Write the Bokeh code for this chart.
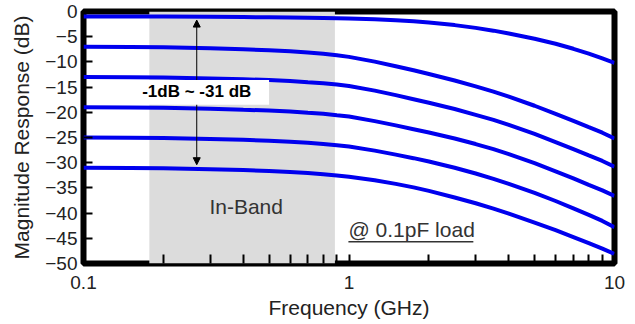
from bokeh.plotting import figure
from bokeh.models import (FixedTicker, CustomJSTickFormatter, BoxAnnotation,
                          Label, Arrow, NormalHead)
from bokeh.embed import file_html
from bokeh.resources import INLINE

# Frequency sweep (GHz) and magnitude response (dB) for each gain setting
freq_ghz = [0.1, 0.15, 0.2, 0.3, 0.4, 0.5, 0.6, 0.7, 0.8, 0.9, 1.0, 1.25, 1.5, 1.75,
            2.0, 2.5, 3.0, 3.5, 4.0, 5.0, 6.0, 7.0, 8.0, 9.0, 10.0]
resp_1db = [-1.0, -1.0, -1.0, -1.05, -1.1, -1.15, -1.2, -1.25, -1.3, -1.35, -1.4, -1.55, -1.75,
            -1.95, -2.2, -2.7, -3.25, -3.8, -4.35, -5.4, -6.4, -7.4, -8.35, -9.3, -10.2]
resp_7db = [-7.0, -7.05, -7.1, -7.3, -7.5, -7.7, -7.9, -8.15, -8.4, -8.7, -9.0, -9.95, -10.85,
            -11.65, -12.4, -13.7, -14.85, -15.9, -16.9, -18.7, -20.3, -21.7, -22.95, -24.05, -25.2]
resp_13db = [-13.0, -13.05, -13.1, -13.3, -13.45, -13.6, -13.8, -14.05, -14.25, -14.5, -14.8, -15.7, -16.6,
             -17.4, -18.1, -19.35, -20.5, -21.5, -22.5, -24.3, -25.9, -27.3, -28.55, -29.65, -30.8]
resp_19db = [-19.0, -19.05, -19.1, -19.3, -19.5, -19.65, -19.85, -20.1, -20.3, -20.6, -20.85, -21.75, -22.6,
             -23.35, -24.0, -25.2, -26.3, -27.3, -28.3, -30.1, -31.7, -33.1, -34.4, -35.5, -36.6]
resp_25db = [-25.0, -25.05, -25.1, -25.3, -25.45, -25.65, -25.85, -26.05, -26.3, -26.55, -26.8, -27.6, -28.4,
             -29.1, -29.75, -31.0, -32.15, -33.2, -34.2, -36.0, -37.6, -39.05, -40.35, -41.55, -42.8]
resp_31db = [-31.0, -31.05, -31.1, -31.3, -31.45, -31.65, -31.85, -32.05, -32.3, -32.55, -32.8, -33.5, -34.2,
             -34.9, -35.6, -36.9, -38.05, -39.1, -40.1, -41.9, -43.4, -44.75, -45.95, -47.05, -48.1]
curves = [resp_1db, resp_7db, resp_13db, resp_19db, resp_25db, resp_31db]

# Axis ticks
x_major_ticks = [0.1, 1, 10]
x_minor_ticks = [0.2, 0.3, 0.4, 0.5, 0.6, 0.7, 0.8, 0.9, 2, 3, 4, 5, 6, 7, 8, 9]
y_major_ticks = [0, -5, -10, -15, -20, -25, -30, -35, -40, -45, -50]

# Annotations
in_band_ghz = [0.177, 0.885]
range_db = [-1, -31]
range_text = "-1dB ~ -31 dB"
band_text = "In-Band"
load_text = "@ 0.1pF load"

FONT = "Liberation Sans"
TEXT_COLOR = "#222222"
CURVE_COLOR = "#0000ee"

p = figure(
    x_axis_type="log", x_range=(0.1, 10), y_range=(-50, 0),
    width=635, height=324,
    min_border_left=83, min_border_right=21, min_border_top=11, min_border_bottom=61,
    output_backend="svg", toolbar_location=None,
    background_fill_color="white", border_fill_color="white",
)
p.grid.visible = False
p.outline_line_color = "black"
p.outline_line_width = 6

# In-band shading
p.add_layout(BoxAnnotation(left=in_band_ghz[0], right=in_band_ghz[1],
                           fill_color="#dcdcdc", fill_alpha=1.0,
                           line_color=None, level="underlay"))

for resp in curves:
    p.line(freq_ghz, resp, line_color=CURVE_COLOR, line_width=4)

# Attenuation range arrow with its boxed label
arrow_x = 0.267
p.add_layout(Arrow(x_start=arrow_x, y_start=-16, x_end=arrow_x, y_end=range_db[0] - 0.7,
                   end=NormalHead(size=7, fill_color="black", line_color="black"),
                   line_color="black", line_width=1))
p.add_layout(Arrow(x_start=arrow_x, y_start=-16, x_end=arrow_x, y_end=range_db[1] + 0.6,
                   end=NormalHead(size=7, fill_color="black", line_color="black"),
                   line_color="black", line_width=1))
p.add_layout(BoxAnnotation(left=0.157, right=0.5, top=-13.6, bottom=-18.5,
                           fill_color="white", fill_alpha=1.0, line_color=None))
p.add_layout(Label(x=arrow_x, y=-15.9, text=range_text, text_align="center",
                   text_baseline="alphabetic", text_font=FONT, text_font_size="17px",
                   text_font_style="bold", text_color="black"))

p.add_layout(Label(x=0.41, y=-38.6, text=band_text, text_align="center",
                   text_baseline="alphabetic", text_font=FONT, text_font_size="21px",
                   text_color="#333333"))

# Load condition note, underlined
p.add_layout(Label(x=0.995, y=-43.3, text=load_text, text_align="left",
                   text_baseline="alphabetic", text_font=FONT, text_font_size="21px",
                   text_color="#333333"))
p.segment(x0=[0.995], y0=[-45.7], x1=[2.94], y1=[-45.7], line_color="#333333", line_width=1.5)

# Axes: ticks point inward
p.xaxis.ticker = FixedTicker(ticks=x_major_ticks, minor_ticks=x_minor_ticks)
p.xaxis.formatter = CustomJSTickFormatter(code="return tick >= 1 ? tick.toFixed(0) : tick.toFixed(1);")
p.yaxis.ticker = FixedTicker(ticks=y_major_ticks)

for ax in (p.xaxis[0], p.yaxis[0]):
    ax.axis_line_color = None
    ax.major_tick_in = 9
    ax.major_tick_out = 0
    ax.major_tick_line_color = "black"
    ax.major_tick_line_width = 2
    ax.major_label_text_font = FONT
    ax.major_label_text_font_size = "19px"
    ax.major_label_text_color = TEXT_COLOR
    ax.axis_label_text_font = FONT
    ax.axis_label_text_font_style = "normal"
    ax.axis_label_text_color = TEXT_COLOR
    ax.axis_label_text_font_size = "21px"

p.xaxis.minor_tick_in = 9
p.xaxis.minor_tick_out = 0
p.xaxis.minor_tick_line_color = "black"
p.xaxis.minor_tick_line_width = 2
p.yaxis.minor_tick_line_color = None

p.xaxis.axis_label = "Frequency (GHz)"
p.xaxis.major_label_standoff = 12
p.xaxis.axis_label_standoff = 4

p.yaxis.axis_label = "Magnitude Response (dB)"
p.yaxis.major_label_standoff = 6
p.yaxis.axis_label_standoff = 9

open("out.html", "w").write(file_html(p, INLINE))
